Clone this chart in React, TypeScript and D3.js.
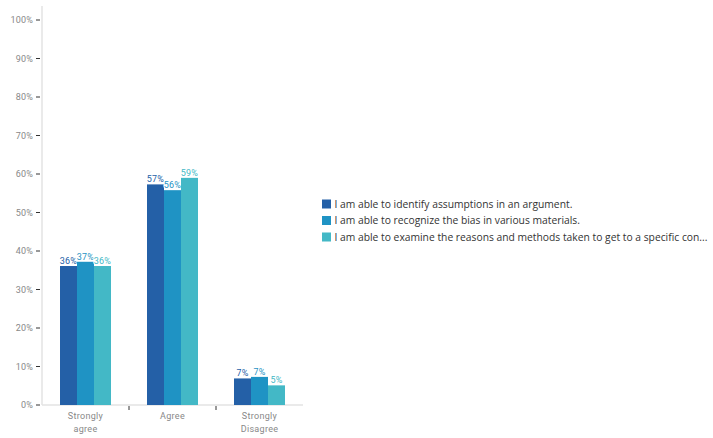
import React from "react";
import * as d3 from "d3";

const categories = ["Strongly agree", "Agree", "Strongly Disagree"];
const categoryLines = [["Strongly", "agree"], ["Agree"], ["Strongly", "Disagree"]];
const seriesNames = [
  "I am able to identify assumptions in an argument.",
  "I am able to recognize the bias in various materials.",
  "I am able to examine the reasons and methods taken to get to a specific con...",
];
const series1 = [36.1, 57.3, 6.9];
const series2 = [37.2, 55.8, 7.3];
const series3 = [36.1, 59.0, 5.1];
const seriesValues = [series1, series2, series3];
const seriesColors = ["#2460a7", "#1f93c4", "#43b8c6"];
const yTicks = [0, 10, 20, 30, 40, 50, 60, 70, 80, 90, 100];

const W = 713;
const H = 438;
const left = 42;
const right = 303;
const top = 20;
const bottom = 405;
const FONT = "Roboto, 'Noto Sans', sans-serif";

export default function App() {
  const y = d3.scaleLinear().domain([0, 100]).range([bottom, top]);
  const x0 = d3.scaleBand().domain(categories).range([left, right]).paddingInner(0).paddingOuter(0);
  const x1 = d3
    .scaleBand()
    .domain(seriesNames)
    .range([18, x0.bandwidth() - 18])
    .padding(0);

  return (
    <svg
      width={W}
      height={H}
      style={{ position: "fixed", left: 0, top: 0, background: "#fff" }}
      fontFamily={FONT}
    >
      {/* y axis */}
      <line x1={left} x2={left} y1={top - 14} y2={bottom} stroke="#e3e3e3" strokeWidth={1.5} />
      {yTicks.map((t) => (
        <g key={t} transform={`translate(0,${y(t)})`}>
          <line x1={left - 6} x2={left - 2} stroke="#333" strokeWidth={1} />
          <text x={left - 9} dy="0.35em" textAnchor="end" fontSize={9} fill="#888" letterSpacing={0.2}>
            {t}%
          </text>
        </g>
      ))}
      {/* x axis */}
      <line x1={left} x2={right} y1={bottom} y2={bottom} stroke="#e3e3e3" strokeWidth={1.5} />
      {categories.slice(1).map((c) => (
        <line key={c} x1={x0(c)!} x2={x0(c)!} y1={bottom + 1} y2={bottom + 5} stroke="#333" />
      ))}
      {categories.map((c, i) => (
        <text key={c} textAnchor="middle" fontSize={9} fill="#888" letterSpacing={0.3}>
          {categoryLines[i].map((ln, j) => (
            <tspan key={j} x={x0(c)! + x0.bandwidth() / 2} y={bottom + 14 + j * 13}>
              {ln}
            </tspan>
          ))}
        </text>
      ))}
      {/* bars */}
      {categories.map((c, ci) => (
        <g key={c} transform={`translate(${x0(c)},0)`}>
          {seriesNames.map((s, si) => {
            const v = seriesValues[si][ci];
            const bx = x1(s)!;
            return (
              <g key={s}>
                <rect
                  x={bx}
                  y={y(v)}
                  width={x1.bandwidth()}
                  height={bottom - y(v)}
                  fill={seriesColors[si]}
                />
                <text
                  x={bx + x1.bandwidth() / 2}
                  y={y(v) - 2}
                  textAnchor="middle"
                  fontSize={9}
                  fill={seriesColors[si]}
                  stroke="#fff"
                  strokeWidth={2}
                  paintOrder="stroke"
                  letterSpacing={0.2}
                >
                  {Math.round(v)}%
                </text>
              </g>
            );
          })}
        </g>
      ))}
      {/* legend */}
      {seriesNames.map((s, i) => (
        <g key={s} transform={`translate(322,${204 + i * 16.5})`}>
          <rect x={0} y={-4.5} width={9} height={9} fill={seriesColors[i]} />
          <text x={12.5} dy="0.35em" fontSize={10.3} fill="#333" fontFamily="'Open Sans', sans-serif">
            {s}
          </text>
        </g>
      ))}
    </svg>
  );
}
